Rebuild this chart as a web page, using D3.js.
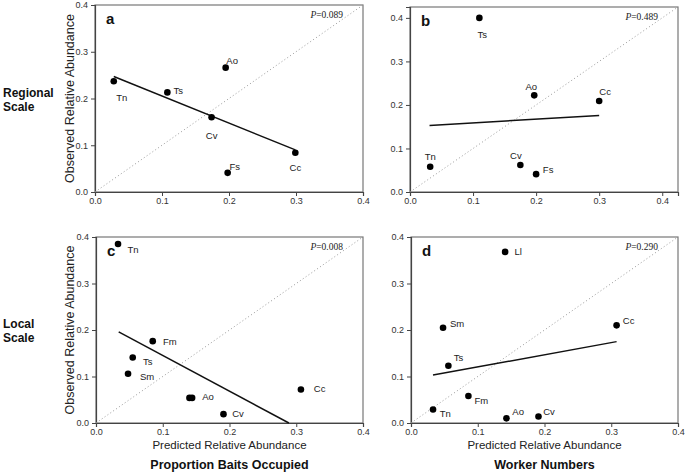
<!DOCTYPE html>
<html><head><meta charset="utf-8">
<script src="https://cdn.jsdelivr.net/npm/d3@7"></script>
<style>
body{margin:0;background:#fff;}
svg{display:block;font-family:"Liberation Sans",Arial,sans-serif;}
</style></head>
<body><svg id="chart" width="685" height="472"></svg>
<script>
// ---- data ----
const speciesA = ["Tn","Ts","Ao","Cv","Fs","Cc"];
const predictedA = [0.028,0.108,0.195,0.174,0.198,0.299];
const observedA = [0.237,0.213,0.266,0.160,0.041,0.084];
const fitXA = [0.028,0.299], fitYA = [0.247,0.090];
const pValueA = "0.089";

const speciesB = ["Ts","Ao","Cc","Tn","Cv","Fs"];
const predictedB = [0.110,0.197,0.300,0.032,0.175,0.200];
const observedB = [0.400,0.222,0.209,0.058,0.062,0.041];
const fitXB = [0.031,0.300], fitYB = [0.153,0.176];
const pValueB = "0.489";

const speciesC = ["Tn","Fm","Ts","Sm","Ao","","Cv","Cc"];
const predictedC = [0.033,0.085,0.055,0.048,0.140,0.144,0.191,0.307];
const observedC = [0.385,0.176,0.141,0.106,0.054,0.054,0.019,0.072];
const fitXC = [0.034,0.289], fitYC = [0.196,0.0];
const pValueC = "0.008";

const speciesD = ["Ll","Sm","Cc","Ts","Fm","Tn","Ao","Cv"];
const predictedD = [0.141,0.048,0.308,0.056,0.086,0.033,0.143,0.191];
const observedD = [0.368,0.205,0.210,0.123,0.058,0.029,0.010,0.014];
const fitXD = [0.033,0.308], fitYD = [0.103,0.175];
const pValueD = "0.290";

const tickValues = [0,0.1,0.2,0.3,0.4];
const tickLabels = ["0.0","0.1","0.2","0.3","0.4"];
const panelLetters = ["a","b","c","d"];
const yTitle = "Observed Relative Abundance";
const xTitle = "Predicted Relative Abundance";
const columnTitles = ["Proportion Baits Occupied","Worker Numbers"];
const rowTitles = [["Regional","Scale"],["Local","Scale"]];

// ---- layout (label offsets in px, relative to the dot) ----
const offA = [[8,16],[11,-2],[6.5,-7],[0,18],[7,-6],[0,15]];
const offB = [[3,17],[-3,-9],[6,-9],[0,-10],[-4.5,-9],[12,-4]];
const offC = [[15,6],[17,1],[15,4],[19,3],[18.5,-1.5],[0,0],[14.5,0],[18.7,-0.5]];
const offD = [[13,0],[14,-4],[12,-5],[10,-8],[13,4.5],[12.3,4.5],[11.7,-7],[10.5,-4.7]];

const panels = [
  {sp:speciesA,x:predictedA,y:observedA,fx:fitXA,fy:fitYA,p:pValueA,off:offA,left:95,right:363,top:5,bottom:192,max:0.4,letter:panelLetters[0],yt:true},
  {sp:speciesB,x:predictedB,y:observedB,fx:fitXB,fy:fitYB,p:pValueB,off:offB,left:410,right:678,top:7,bottom:192,max:0.425,letter:panelLetters[1],yt:false},
  {sp:speciesC,x:predictedC,y:observedC,fx:fitXC,fy:fitYC,p:pValueC,off:offC,left:96,right:363,top:237,bottom:423,max:0.4,letter:panelLetters[2],yt:true,xt:columnTitles[0]},
  {sp:speciesD,x:predictedD,y:observedD,fx:fitXD,fy:fitYD,p:pValueD,off:offD,left:411,right:678,top:237,bottom:423,max:0.4,letter:panelLetters[3],yt:false,xt:columnTitles[1]}
];

const svg = d3.select("#chart");

panels.forEach(P => {
  const xs = d3.scaleLinear().domain([0,P.max]).range([P.left,P.right]);
  const ys = d3.scaleLinear().domain([0,P.max]).range([P.bottom,P.top]);
  const g = svg.append("g");

  // frame
  g.append("rect").attr("x",P.left).attr("y",P.top)
    .attr("width",P.right-P.left).attr("height",P.bottom-P.top)
    .attr("fill","none").attr("stroke","#777").attr("stroke-width",1.2);

  // axes
  const xa = d3.axisBottom(xs).tickValues(tickValues).tickFormat((d,i)=>tickLabels[i]).tickSize(4).tickPadding(2);
  const ya = d3.axisLeft(ys).tickValues(tickValues).tickFormat((d,i)=>tickLabels[i]).tickSize(4).tickPadding(3);
  const gx = g.append("g").attr("transform",`translate(0,${P.bottom})`).call(xa);
  const gy = g.append("g").attr("transform",`translate(${P.left},0)`).call(ya);
  [gx,gy].forEach(a=>{
    a.select(".domain").attr("stroke","#444").attr("stroke-width",1.2);
    a.selectAll(".tick line").attr("stroke","#444");
    a.selectAll(".tick text").attr("fill","#333").style("font-size","9px").style("font-family","'Liberation Sans',Arial,sans-serif");
  });

  // 1:1 dotted line
  g.append("line").attr("x1",xs(0)).attr("y1",ys(0)).attr("x2",xs(P.max)).attr("y2",ys(P.max))
    .attr("stroke","#999").attr("stroke-width",1).attr("stroke-dasharray","1,2.5");

  // regression line
  g.append("line").attr("x1",xs(P.fx[0])).attr("y1",ys(P.fy[0])).attr("x2",xs(P.fx[1])).attr("y2",ys(P.fy[1]))
    .attr("stroke","#111").attr("stroke-width",1.5);

  // points
  const idx = d3.range(P.sp.length);
  g.selectAll("circle.pt").data(idx).enter().append("circle").attr("class","pt")
    .attr("cx",i=>xs(P.x[i])).attr("cy",i=>ys(P.y[i])).attr("r",3.3).attr("fill","#000");
  g.selectAll("text.lab").data(idx.filter(i=>P.sp[i])).enter().append("text").attr("class","lab")
    .attr("x",i=>xs(P.x[i])+P.off[i][0]).attr("y",i=>ys(P.y[i])+P.off[i][1])
    .attr("dy","0.35em").attr("text-anchor","middle").attr("fill","#222")
    .style("font-size","9.5px").text(i=>P.sp[i]);

  // panel letter
  g.append("text").attr("x",P.left+11).attr("y",P.top+19).attr("font-weight","bold")
    .style("font-size","15px").attr("fill","#111").text(P.letter);

  // P value
  const pt = g.append("text").attr("x",P.right-20).attr("y",P.top+13).attr("text-anchor","end")
    .style("font-family","'Liberation Serif','Times New Roman',serif").style("font-size","9.5px").attr("fill","#222");
  pt.append("tspan").attr("font-style","italic").text("P");
  pt.append("tspan").text("=" + P.p);

  // y title
  if (P.yt) {
    const cy = (P.top+P.bottom)/2;
    g.append("text").attr("transform",`translate(74,${cy}) rotate(-90)`).attr("text-anchor","middle")
      .style("font-size","12.5px").attr("fill","#222").text(yTitle);
  }
  // x titles
  if (P.xt) {
    const cx = (P.left+P.right)/2;
    g.append("text").attr("x",cx).attr("y",449).attr("text-anchor","middle")
      .style("font-size","11.5px").attr("fill","#222").text(xTitle);
    g.append("text").attr("x",cx).attr("y",469).attr("text-anchor","middle").attr("font-weight","bold")
      .style("font-size","12.5px").attr("fill","#111").text(P.xt);
  }
});

// row titles
const rowBase = [97,328];
rowTitles.forEach((lines,r)=>{
  lines.forEach((t,k)=>{
    svg.append("text").attr("x",3).attr("y",rowBase[r]+k*14).attr("font-weight","bold")
      .style("font-size","12px").attr("fill","#111").text(t);
  });
});
</script></body></html>
